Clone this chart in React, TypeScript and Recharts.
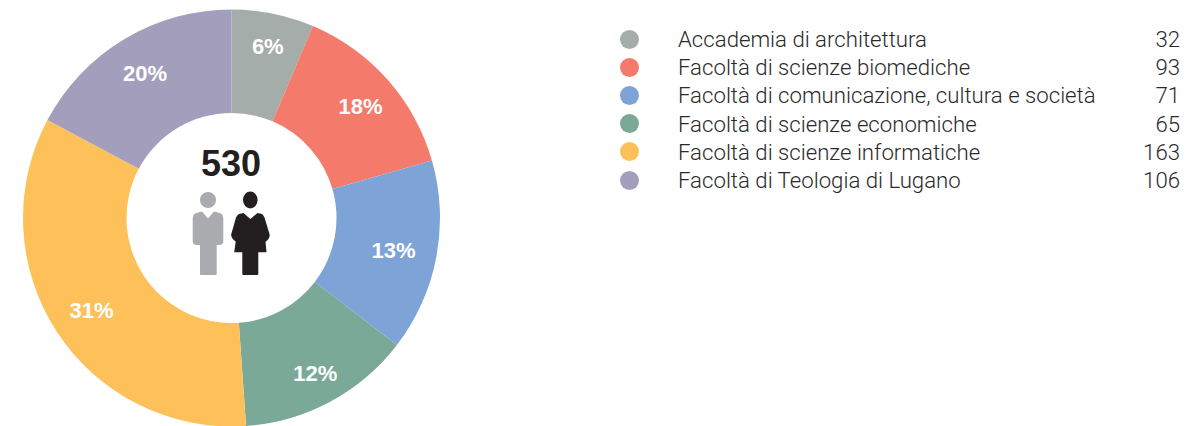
import React from "react";
import { PieChart, Pie, Cell, Legend } from "recharts";

const categories = [
  "Accademia di architettura",
  "Facoltà di scienze biomediche",
  "Facoltà di comunicazione, cultura e società",
  "Facoltà di scienze economiche",
  "Facoltà di scienze informatiche",
  "Facoltà di Teologia di Lugano",
];
const counts = [32, 93, 71, 65, 163, 106];
const percentLabels = ["6%", "18%", "13%", "12%", "31%", "20%"];
// Slice sizes as drawn in the picture (degrees of arc), which differ from the counts.
const drawnShares = [23, 51, 53.5, 48.5, 122, 62];
const colors = ["#a5adaa", "#f47b6b", "#7ea3d6", "#7ba997", "#fec15a", "#a29ebc"];
const total = "530";

const data = categories.map((name, i) => ({ name, share: drawnShares[i], count: counts[i], pct: percentLabels[i] }));

const labelRadii = [177, 171, 164, 175, 168, 170];

const RAD = Math.PI / 180;
const renderLabel = (p: any) => {
  const r = labelRadii[p.index];
  const x = p.cx + r * Math.cos(-p.midAngle * RAD) + 1;
  const y = p.cy + r * Math.sin(-p.midAngle * RAD) + 1.5;
  return (
    <text key={p.index} x={x} y={y} fill="#fff" fontFamily="'Liberation Sans'" fontWeight={700} fontSize={22} textAnchor="middle" dominantBaseline="central">
      {percentLabels[p.index]}
    </text>
  );
};

const LegendContent = () => (
  <div style={{ position: "relative", width: 566, height: 180 }}>
    {data.map((d, i) => (
      <div key={d.name} style={{ position: "absolute", left: 0, top: i * 28.2, width: 566, height: 28, fontFamily: "Roboto", fontWeight: 300, fontSize: 22.2, lineHeight: "28px", color: "#2a2a2a" }}>
        <span style={{ position: "absolute", left: 0, top: 4.5, width: 19, height: 19, borderRadius: "50%", background: colors[i] }} />
        <span style={{ position: "absolute", left: 58, whiteSpace: "nowrap" }}>{d.name}</span>
        <span style={{ position: "absolute", right: 6, whiteSpace: "nowrap" }}>{d.count}</span>
      </div>
    ))}
  </div>
);

export default function App() {
  return (
    <div style={{ position: "absolute", left: 0, top: 0, width: 1186, height: 426, background: "#fff", overflow: "hidden" }}>
      <PieChart width={1186} height={426} margin={{ top: 0, right: 0, bottom: 0, left: 0 }}>
        <Pie
          data={data}
          dataKey="share"
          nameKey="name"
          cx={231.5}
          cy={218}
          innerRadius={105}
          outerRadius={208.5}
          startAngle={90}
          endAngle={-270}
          paddingAngle={0}
          stroke="none"
          label={renderLabel}
          labelLine={false}
          isAnimationActive={false}
        >
          {data.map((d, i) => (
            <Cell key={d.name} fill={colors[i]} />
          ))}
        </Pie>
        <Legend content={<LegendContent />} wrapperStyle={{ position: "absolute", left: 620, top: 25, width: 566, height: 180 }} />
      </PieChart>
      <svg width={1186} height={426} style={{ position: "absolute", left: 0, top: 0, pointerEvents: "none" }}>
        <text x={231} y={176} textAnchor="middle" fontFamily="'Liberation Sans'" fontWeight={700} fontSize={36} fill="#231f20">{total}</text>
        <g fill="#a9abae">
          <circle cx={208} cy={200} r={8} />
          <path d="M195 213.5 L202 211.5 L208 218.5 L214 211.5 L221 213.5 Q223.3 215 223.3 218 L223.3 241 Q223.3 245 219 245 L216.7 245 L216.7 274 Q216.7 275 215.7 275 L201 275 Q200 275 200 274 L200 245 L197 245 Q192.7 245 192.7 241 L192.7 218 Q192.7 215 195 213.5 Z" />
        </g>
        <g fill="#231f20">
          <ellipse cx={250.3} cy={200} rx={7.3} ry={8.5} />
          <path d="M243.5 213 L250.3 219 L257.5 213 L262 214 Q263.5 215 264.5 217.5 L269.5 234 Q270.5 238 266 241.5 L265.5 241.5 L266.5 252.3 L258.3 252.3 L258.3 274 Q258.3 275 257.3 275 L243.3 275 Q242.3 275 242.3 274 L242.3 252.3 L234.2 252.3 L235.7 241.5 Q230.5 238 231.3 234 L236 217.5 Q237 215 239 214 Z" />
        </g>
      </svg>
    </div>
  );
}
